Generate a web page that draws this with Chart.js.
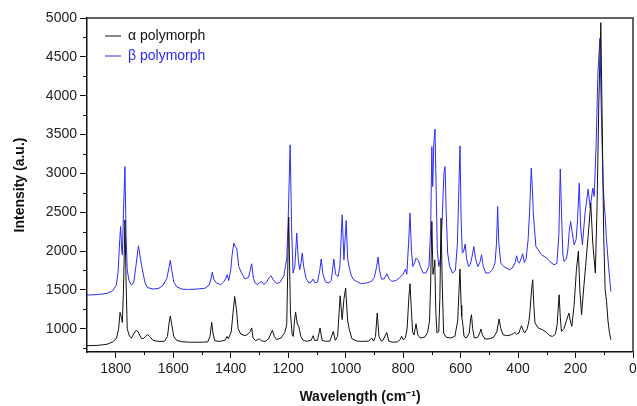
<!DOCTYPE html>
<html>
<head>
<meta charset="utf-8">
<script src="https://cdn.jsdelivr.net/npm/chart.js@4.4.1/dist/chart.umd.min.js"></script>
<style>
  html, body { margin: 0; padding: 0; background: #fff; }
  #wrap { width: 637px; height: 406px; }
</style>
</head>
<body>
<div id="wrap"><canvas id="ramanChart" width="637" height="406"></canvas></div>
<script>
// Raman spectra (wavenumber in cm-1, intensity in a.u.)
const alphaWavenumber = [1900, 1860, 1830, 1810, 1797, 1790, 1785, 1780, 1777, 1773, 1768, 1764, 1760, 1752, 1745, 1738, 1729, 1722, 1712, 1705, 1697, 1689, 1682, 1670, 1650, 1630, 1620, 1614, 1610, 1605, 1598, 1588, 1570, 1540, 1500, 1480, 1472, 1466, 1461, 1455, 1440, 1420, 1413, 1408, 1398, 1392, 1386, 1380, 1374, 1365, 1350, 1340, 1332, 1327, 1322, 1313, 1306, 1300, 1293, 1280, 1268, 1255, 1248, 1240, 1225, 1212, 1205, 1198, 1192, 1186, 1182, 1178, 1174, 1168, 1163, 1156, 1148, 1135, 1120, 1113, 1108, 1098, 1089, 1082, 1070, 1055, 1043, 1036, 1028, 1019, 1012, 1006, 1000, 993, 987, 978, 960, 940, 920, 909, 903, 896, 890, 884, 876, 870, 857, 850, 838, 820, 810, 805, 800, 792, 786, 780, 776, 772, 767, 762, 755, 749, 740, 725, 715, 708, 704, 700, 696, 692, 690, 686, 682, 676, 672, 668, 664, 659, 650, 635, 620, 610, 606, 602, 598, 596, 592, 588, 580, 570, 565, 562, 558, 552, 540, 533, 529, 524, 515, 500, 485, 474, 466, 460, 452, 440, 425, 415, 411, 405, 397, 392, 388, 382, 377, 368, 362, 359, 353, 349, 345, 341, 330, 315, 300, 290, 280, 270, 264, 257, 253, 249, 240, 232, 223, 218, 213, 205, 197, 190, 185, 179, 172, 165, 156, 147, 140, 131, 125, 119, 112, 107, 102, 97, 92, 87, 82, 77];
const alphaIntensity = [781, 786, 800, 830, 880, 1000, 1210, 1140, 1080, 1500, 2400, 1600, 1000, 900, 880, 930, 980, 960, 880, 870, 900, 925, 900, 850, 835, 840, 900, 1080, 1165, 1050, 900, 850, 832, 826, 826, 830, 900, 1080, 930, 845, 836, 850, 900, 870, 960, 1200, 1415, 1250, 1000, 930, 910, 930, 960, 1010, 880, 845, 860, 867, 845, 835, 870, 980, 900, 860, 880, 950, 1050, 2437, 1200, 920, 900, 1100, 1210, 1060, 1030, 900, 850, 838, 850, 910, 850, 850, 1009, 850, 838, 840, 965, 850, 900, 1424, 1116, 1380, 1523, 1100, 987, 870, 840, 837, 840, 880, 840, 900, 1202, 900, 840, 850, 952, 840, 826, 830, 860, 901, 858, 880, 1000, 1400, 1579, 1300, 960, 920, 1064, 920, 880, 890, 950, 1100, 1600, 2380, 1700, 1800, 1887, 1200, 945, 960, 1400, 2424, 1600, 945, 890, 880, 900, 1100, 1450, 1768, 1300, 1158, 1050, 901, 880, 940, 1130, 1180, 1000, 880, 890, 950, 996, 920, 867, 870, 890, 960, 1125, 1000, 923, 910, 920, 940, 952, 930, 945, 1000, 1039, 980, 945, 1000, 1100, 1202, 1500, 1630, 1300, 1073, 1010, 987, 950, 910, 901, 930, 1050, 1437, 1150, 965, 1000, 1100, 1202, 1100, 1030, 1300, 1750, 2000, 1500, 1180, 1500, 1801, 2200, 2616, 2100, 1716, 2600, 3900, 4940, 3600, 2200, 1502, 1350, 1100, 950, 858];

const betaWavenumber = [1900, 1860, 1830, 1810, 1798, 1792, 1786, 1783, 1779, 1777, 1773, 1768, 1764, 1760, 1754, 1745, 1737, 1730, 1721, 1714, 1705, 1698, 1690, 1670, 1650, 1635, 1622, 1614, 1610, 1605, 1598, 1588, 1570, 1550, 1520, 1490, 1475, 1468, 1464, 1459, 1450, 1435, 1425, 1418, 1412, 1407, 1400, 1395, 1389, 1383, 1379, 1372, 1362, 1350, 1338, 1332, 1327, 1321, 1315, 1308, 1300, 1292, 1285, 1275, 1266, 1260, 1252, 1240, 1228, 1215, 1205, 1200, 1193, 1188, 1183, 1177, 1170, 1165, 1160, 1155, 1151, 1146, 1138, 1128, 1120, 1113, 1107, 1098, 1090, 1085, 1079, 1070, 1058, 1050, 1041, 1035, 1026, 1020, 1012, 1006, 998, 993, 988, 980, 972, 962, 945, 925, 910, 900, 892, 887, 882, 875, 866, 856, 850, 840, 825, 812, 800, 792, 787, 781, 776, 771, 766, 760, 755, 747, 740, 730, 720, 710, 704, 700, 697, 693, 689, 685, 681, 676, 670, 664, 658, 654, 650, 645, 638, 628, 618, 611, 606, 602, 598, 594, 589, 584, 579, 572, 566, 560, 554, 548, 540, 533, 527, 521, 512, 500, 489, 480, 475, 471, 467, 460, 450, 430, 420, 410, 405, 400, 395, 388, 384, 378, 372, 365, 360, 354, 350, 347, 343, 338, 330, 318, 300, 288, 275, 265, 258, 253, 248, 244, 240, 232, 227, 222, 217, 212, 205, 198, 193, 187, 182, 176, 167, 156, 149, 140, 135, 128, 122, 115, 111, 107, 104, 100, 96, 93, 85, 77];
const betaIntensity = [1433, 1440, 1455, 1490, 1560, 1720, 2150, 2316, 2000, 1952, 2500, 3087, 2200, 1760, 1620, 1560, 1600, 1800, 2068, 1900, 1716, 1590, 1530, 1510, 1520, 1560, 1650, 1800, 1879, 1750, 1600, 1540, 1510, 1505, 1510, 1520, 1560, 1650, 1729, 1639, 1590, 1566, 1600, 1640, 1695, 1620, 1750, 1950, 2102, 2050, 2038, 1800, 1716, 1640, 1660, 1750, 1836, 1650, 1588, 1570, 1590, 1609, 1570, 1600, 1660, 1682, 1630, 1580, 1600, 1680, 1900, 2400, 3367, 2300, 1716, 1800, 2231, 1900, 1759, 1850, 1974, 1800, 1652, 1588, 1600, 1639, 1590, 1600, 1750, 1897, 1700, 1600, 1588, 1620, 1897, 1700, 1673, 1800, 2466, 1887, 2393, 1900, 1801, 1680, 1630, 1609, 1579, 1590, 1609, 1660, 1800, 1922, 1750, 1639, 1640, 1707, 1650, 1609, 1620, 1660, 1700, 1768, 1700, 2100, 2488, 2000, 1801, 1850, 1909, 1880, 1800, 1716, 1720, 1801, 2300, 3345, 2830, 3400, 3569, 2800, 2016, 1801, 1900, 2400, 3000, 3087, 2500, 1974, 1800, 1716, 1750, 2100, 2800, 3354, 2400, 1974, 2000, 2090, 1900, 1800, 1830, 1930, 2059, 1900, 1801, 1850, 1952, 1800, 1716, 1720, 1759, 1850, 2100, 2573, 2100, 1845, 1800, 1759, 1781, 1850, 1939, 1860, 1845, 1920, 1965, 1853, 1900, 2145, 2500, 3067, 2800, 2488, 2300, 2059, 2016, 1950, 1909, 1860, 1823, 1840, 2200, 3054, 2400, 1950, 1866, 1900, 2000, 2250, 2380, 2250, 2080, 2145, 2400, 2874, 2300, 2080, 2488, 2797, 2552, 2810, 2702, 3400, 4300, 4739, 3900, 3300, 2874, 2600, 2400, 2187, 1800, 1480];

const seriesLabels = ['α polymorph', 'β polymorph'];
const seriesColors = ['#111111', '#2b2bff'];
const xMajorTicks = [0, 200, 400, 600, 800, 1000, 1200, 1400, 1600, 1800];
const yMajorTicks = [1000, 1500, 2000, 2500, 3000, 3500, 4000, 4500, 5000];

const toPoints = (xs, ys) => xs.map((x, i) => ({ x: x, y: ys[i] }));

// frame round the plot + small minor ticks between the labelled ones
const framePlugin = {
    id: 'frame',
    afterLayout(chart) {
        chart.legend.left += 12;
        chart.legend.top += 23;
    },
    afterDraw(chart) {
        const { ctx, chartArea: a, scales } = chart;
        ctx.save();
        ctx.strokeStyle = '#333';
        ctx.lineWidth = 1.5;
        ctx.beginPath();
        ctx.moveTo(a.left, a.top);
        ctx.lineTo(a.right, a.top);
        ctx.lineTo(a.right, a.bottom);
        ctx.stroke();
        ctx.lineWidth = 1;
        ctx.strokeStyle = '#111';
        ctx.beginPath();
        xMajorTicks.forEach(v => {
            const px = Math.round(scales.x.getPixelForValue(v + 100)) + 0.5;
            if (v + 100 < 1900) {
                ctx.moveTo(px, a.bottom);
                ctx.lineTo(px, a.bottom + 3);
            }
        });
        yMajorTicks.forEach(v => {
            const py = Math.round(scales.y.getPixelForValue(v - 250)) + 0.5;
            ctx.moveTo(a.left, py);
            ctx.lineTo(a.left - 4, py);
        });
        ctx.stroke();
        ctx.restore();
    }
};

Chart.defaults.font.family = '"Liberation Sans", Arial, sans-serif';
Chart.defaults.font.size = 14;
Chart.defaults.color = '#222';

const ctx = document.getElementById('ramanChart').getContext('2d');
new Chart(ctx, {
    type: 'line',
    data: {
        datasets: [
            {
                label: seriesLabels[0],
                data: toPoints(alphaWavenumber, alphaIntensity),
                borderColor: seriesColors[0],
                borderWidth: 1,
                pointRadius: 0,
                fill: false
            },
            {
                label: seriesLabels[1],
                data: toPoints(betaWavenumber, betaIntensity),
                borderColor: seriesColors[1],
                borderWidth: 1,
                pointRadius: 0,
                fill: false
            }
        ]
    },
    options: {
        responsive: false,
        animation: false,
        devicePixelRatio: 1,
        layout: { padding: { top: 18, right: 4, bottom: 0, left: 0 } },
        plugins: {
            tooltip: { enabled: false },
            legend: {
                position: 'chartArea',
                align: 'start',
                labels: {
                    usePointStyle: true,
                    pointStyle: 'line',
                    pointStyleWidth: 16,
                    padding: 6,
                    font: { size: 14 },
                    generateLabels(chart) {
                        const items = Chart.defaults.plugins.legend.labels.generateLabels(chart);
                        items.forEach((it, i) => { it.fontColor = seriesColors[i]; it.lineWidth = 1; });
                        return items;
                    }
                }
            }
        },
        scales: {
            x: {
                type: 'linear',
                reverse: true,
                min: 0,
                max: 1900,
                afterFit(scale) { scale.height = 54; },
                afterBuildTicks(scale) { scale.ticks = xMajorTicks.map(v => ({ value: v })); },
                ticks: { padding: 3, color: '#222', maxRotation: 0, autoSkip: false, callback: v => String(v) },
                grid: { display: true, drawOnChartArea: false, drawTicks: true, tickLength: 6, color: '#111' },
                border: { display: true, color: '#111', width: 1.5 },
                title: {
                    display: true,
                    text: 'Wavelength (cm⁻¹)',
                    font: { size: 14, weight: 'bold' },
                    color: '#111',
                    padding: { top: 2, bottom: 0 }
                }
            },
            y: {
                type: 'linear',
                min: 700,
                max: 5000,
                afterFit(scale) { scale.width = 87; },
                afterBuildTicks(scale) { scale.ticks = yMajorTicks.map(v => ({ value: v })); },
                ticks: { padding: 3, color: '#222', autoSkip: false, callback: v => String(v) },
                grid: { display: true, drawOnChartArea: false, drawTicks: true, tickLength: 7, color: '#111' },
                border: { display: true, color: '#111', width: 1.5 },
                title: {
                    display: true,
                    text: 'Intensity (a.u.)',
                    font: { size: 14, weight: 'bold' },
                    color: '#111',
                    padding: { top: 12, bottom: 0 }
                }
            }
        }
    },
    plugins: [framePlugin]
});
</script>
</body>
</html>
